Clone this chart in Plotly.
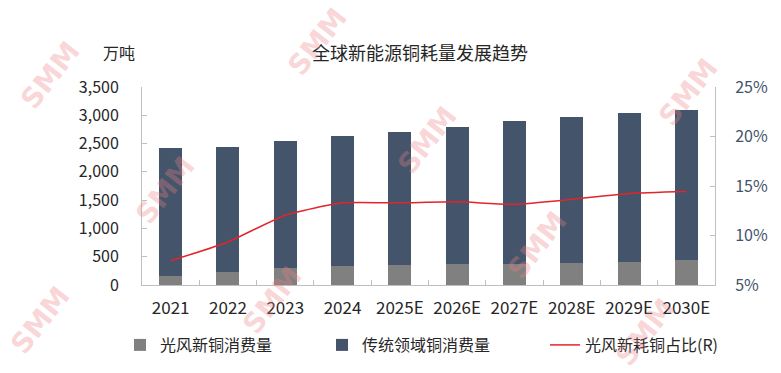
import plotly.graph_objects as go

years = ["2021", "2022", "2023", "2024", "2025E", "2026E", "2027E", "2028E", "2029E", "2030E"]
pv_wind = [165, 230, 295, 330, 348, 371, 372, 395, 413, 436]
total = [2420, 2438, 2544, 2627, 2709, 2791, 2891, 2974, 3039, 3098]
traditional = [t - p for t, p in zip(total, pv_wind)]
share_pct = [7.45, 9.35, 12.05, 13.3, 13.3, 13.4, 13.15, 13.65, 14.25, 14.45]

# decorative watermark placements, in pixels from top-left
wm_px = [(50, 75), (318, 42), (688, 92), (427, 140), (165, 190),
         (537, 245), (272, 300), (40, 320), (645, 332)]

CJK = "Noto Sans CJK SC"
W, H = 781, 373
L, R, T, B = 142, 66, 87, 88
pw, ph = W - L - R, H - T - B


def px(x):
    return (x - L) / pw


def py(y):
    return (H - B - y) / ph


fig = go.Figure()
fig.add_trace(go.Bar(x=years, y=pv_wind, name="光风新铜消费量", marker_color="#808080",
                     marker_line_width=0, legend="legend"))
fig.add_trace(go.Bar(x=years, y=traditional, name="传统领域铜消费量", marker_color="#44546A",
                     marker_line_width=0, legend="legend2"))
fig.add_trace(go.Scatter(x=years, y=share_pct, name="光风新耗铜占比(R)", yaxis="y2",
                         mode="lines", legend="legend3",
                         line=dict(color="#E3242B", width=1.5, shape="spline", smoothing=0.5)))

annotations = [
    dict(text="全球新能源铜耗量发展趋势", xref="paper", yref="paper", x=px(420), y=py(52),
         xanchor="center", yanchor="middle", showarrow=False,
         font=dict(family=CJK, size=18, color="#262626")),
    dict(text="万吨", xref="paper", yref="paper", x=px(119), y=py(52),
         xanchor="center", yanchor="middle", showarrow=False,
         font=dict(family=CJK, size=16, color="#262626")),
]
for (wx, wy) in wm_px:
    annotations.append(dict(
        text="<b>SMM</b>", xref="paper", yref="paper", x=px(wx), y=py(wy),
        xanchor="center", yanchor="middle", showarrow=False, textangle=-52,
        font=dict(family="DejaVu Sans", size=28, color="rgba(238,130,134,0.33)")))

leg_common = dict(orientation="h", yanchor="middle", y=py(345), xanchor="left",
                  bgcolor="rgba(0,0,0,0)", font=dict(family=CJK, size=16, color="#262626"),
                  itemwidth=30)

fig.update_layout(
    width=W, height=H,
    margin=dict(l=L, r=R, t=T, b=B, autoexpand=False),
    paper_bgcolor="white", plot_bgcolor="white",
    barmode="stack", bargap=0.6,
    font=dict(family=CJK, size=15, color="#262626"),
    showlegend=True,
    legend=dict(leg_common, x=px(120)),
    legend2=dict(leg_common, x=px(322)),
    legend3=dict(leg_common, x=px(545)),
    xaxis=dict(showline=True, linecolor="#BFBFBF", linewidth=1, ticks="inside",
               tickson="boundaries", ticklen=5, tickcolor="#BFBFBF", ticklabelstandoff=8,
               tickfont=dict(family=CJK, size=17, color="#262626"), showgrid=False),
    yaxis=dict(range=[0, 3500], dtick=500, tickformat=",", showline=True,
               linecolor="#BFBFBF", ticks="inside", ticklen=5, tickcolor="#BFBFBF",
               showgrid=False, zeroline=False, ticklabelstandoff=19,
               tickfont=dict(family=CJK, size=16, color="#262626")),
    yaxis2=dict(range=[5, 25], dtick=5, ticksuffix="%", overlaying="y", side="right",
                showline=True, linecolor="#BFBFBF", ticks="inside", ticklen=5,
                tickcolor="#BFBFBF", showgrid=False, zeroline=False, ticklabelstandoff=16,
                tickfont=dict(family=CJK, size=16, color="#44546A")),
    annotations=annotations,
)

fig.write_html("out.html", config={"displayModeBar": False},
               post_script="document.body.style.margin='0';")
